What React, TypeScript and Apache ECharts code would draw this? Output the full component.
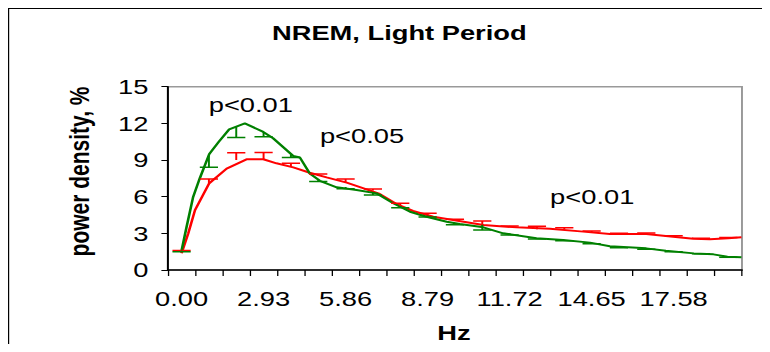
import React, { useEffect, useRef } from "react";
import * as echarts from "echarts";

// Category bins (Hz), labels on every 3rd bin
const categories = [
  "0.00", "0.98", "1.95", "2.93", "3.91", "4.88", "5.86", "6.84", "7.81", "8.79",
  "9.77", "10.74", "11.72", "12.70", "13.67", "14.65", "15.63", "16.60", "17.58", "18.55", "19.53",
];

// Mean and SE at each bin (red: bar upward, green: bar downward)
const redMean = [1.4, 7.1, 9.0, 9.06, 8.45, 7.7, 7.17, 6.5, 5.25, 4.4, 4.05, 3.6, 3.5, 3.33, 3.35, 3.1, 2.92, 2.93, 2.73, 2.52, 2.58];
const redSE = [0.2, 0.35, 0.6, 0.55, 0.28, 0.16, 0.28, 0.13, 0.21, 0.24, 0.11, 0.4, 0.1, 0.24, 0.11, 0.09, 0.08, 0.1, 0.08, 0.07, 0.07];
const greenMean = [1.6, 9.4, 11.7, 11.3, 9.45, 7.4, 6.8, 6.3, 5.2, 4.45, 3.85, 3.7, 3.0, 2.62, 2.47, 2.22, 1.9, 1.75, 1.55, 1.36, 1.1];
const greenSE = [0.1, 1.0, 0.85, 0.4, 0.25, 0.15, 0.15, 0.16, 0.1, 0.12, 0.15, 0.43, 0.14, 0.08, 0.07, 0.07, 0.07, 0.06, 0.05, 0.04, 0.06];

// Fine-resolution curves: frequency (Hz) and value (%)
const redFreq = [0, 0.24, 0.48, 0.99, 1.61, 2.32, 2.92, 3.39, 3.99, 4.58, 5.18, 5.9, 6.61, 7.08, 7.68, 8.27, 8.99, 9.7, 10.78, 11.97, 13.16, 14.35, 15.3, 16.6, 17.56, 18.28, 18.87, 19.53, 20.0];
const redVal = [1.37, 3.0, 4.9, 7.1, 8.3, 9.06, 9.06, 8.73, 8.4, 7.96, 7.58, 7.15, 6.6, 6.22, 5.4, 4.83, 4.36, 4.09, 3.68, 3.49, 3.38, 3.14, 2.95, 2.95, 2.73, 2.56, 2.51, 2.59, 2.68];
const greenFreq = [0, 0.18, 0.41, 0.65, 0.99, 1.33, 1.7, 2.26, 2.92, 3.27, 3.99, 4.23, 4.58, 4.94, 5.54, 6.25, 6.97, 7.56, 8.16, 8.75, 9.47, 9.94, 10.78, 11.49, 12.68, 13.63, 14.59, 15.3, 16.6, 17.3, 18.3, 19.0, 19.5, 20.0];
const greenVal = [1.58, 3.54, 5.95, 7.5, 9.49, 10.5, 11.51, 12.0, 11.3, 10.78, 9.33, 9.2, 7.9, 7.3, 6.77, 6.55, 6.27, 5.46, 4.77, 4.36, 3.95, 3.76, 3.49, 3.0, 2.59, 2.45, 2.24, 1.95, 1.77, 1.58, 1.36, 1.28, 1.09, 1.04];

const yTicks = { min: 0, max: 15, interval: 3 };

const FONT = "'Liberation Sans', Arial, Helvetica, sans-serif";
const RED = "#ff0000";
const GREEN = "#008000";

function errorBarSeries(name: string, mean: number[], se: number[], dir: number, color: string) {
  return {
    name,
    type: "custom",
    xAxisIndex: 0,
    yAxisIndex: 0,
    data: mean.map((m, i) => [i, m, m + dir * se[i]]),
    encode: { x: 0, y: [1, 2] },
    renderItem: (params: any, api: any) => {
      const i = api.value(0);
      const p0 = api.coord([i, api.value(1)]);
      const p1 = api.coord([i, api.value(2)]);
      const hw = 7;
      return {
        type: "group",
        children: [
          { type: "line", shape: { x1: p0[0], y1: p0[1], x2: p1[0], y2: p1[1] }, style: { stroke: color, lineWidth: 1.5 } },
          { type: "line", shape: { x1: p1[0] - hw, y1: p1[1], x2: p1[0] + hw, y2: p1[1] }, style: { stroke: color, lineWidth: 1.5 } },
        ],
      };
    },
    z: 3,
  };
}

function label(text: string, x: number, y: number, bold: boolean, rotation = 0) {
  return {
    type: "text",
    x,
    y,
    rotation,
    z: 10,
    style: {
      text,
      fill: "#000",
      fontFamily: FONT,
      fontSize: 21,
      fontWeight: bold ? "bold" : "normal",
      align: "center",
      verticalAlign: "middle",
    },
  };
}

export default function App() {
  const ref = useRef<HTMLDivElement>(null);

  useEffect(() => {
    document.body.style.overflow = "hidden";
    const chart = echarts.init(ref.current!, undefined, { renderer: "svg" });
    chart.setOption({
      animation: false,
      backgroundColor: "#fff",
      grid: {
        left: 122,
        right: 36.4,
        top: 77.7,
        bottom: 99,
        show: true,
        borderColor: "#999",
        borderWidth: 1.5,
        backgroundColor: "#fff",
      },
      xAxis: [
        {
          type: "category",
          data: categories,
          boundaryGap: true,
          axisLine: { onZero: false, lineStyle: { color: "#000", width: 1.5 } },
          axisTick: { show: true, interval: 0, alignWithLabel: false, length: 6, lineStyle: { color: "#000" } },
          axisLabel: { interval: 2, margin: 18, color: "#000", fontSize: 21, fontFamily: FONT },
          splitLine: { show: false },
          z: 5,
        },
        {
          type: "value",
          min: -0.48828,
          max: 20.01953,
          show: false,
        },
      ],
      yAxis: {
        type: "value",
        min: yTicks.min,
        max: yTicks.max,
        interval: yTicks.interval,
        axisLine: { show: true, onZero: false, lineStyle: { color: "#000", width: 1.5 } },
        axisTick: { show: true, length: 5, lineStyle: { color: "#000" } },
        axisLabel: { margin: 15, color: "#000", fontSize: 21, fontFamily: FONT },
        splitLine: { show: false },
        z: 5,
      },
      series: [
        {
          name: "red curve",
          type: "line",
          xAxisIndex: 1,
          data: redFreq.map((f, i) => [f, redVal[i]]),
          showSymbol: false,
          lineStyle: { color: RED, width: 2 },
          itemStyle: { color: RED },
          z: 2,
        },
        {
          name: "green curve",
          type: "line",
          xAxisIndex: 1,
          data: greenFreq.map((f, i) => [f, greenVal[i]]),
          showSymbol: false,
          lineStyle: { color: GREEN, width: 2 },
          itemStyle: { color: GREEN },
          z: 2,
        },
        errorBarSeries("red SE", redMean, redSE, 1, RED),
        errorBarSeries("green SE", greenMean, greenSE, -1, GREEN),
      ],
      graphic: [
        label("NREM, Light Period", 300, 23.3, true),
        label("power density, %", 53.6, 162.5, true, Math.PI / 2),
        label("Hz", 342, 323.5, true),
        label("p<0.01", 185.8, 96, false),
        label("p<0.05", 271.3, 126.5, false),
        label("p<0.01", 448.4, 187.7, false),
      ],
    });
    return () => chart.dispose();
  }, []);

  return (
    <div style={{ width: 754, height: 336, overflow: "hidden" }}>
      <div
        style={{
          width: 600,
          height: 360,
          border: "1px solid #000",
          transform: "scaleX(1.3)",
          transformOrigin: "0 0",
          background: "#fff",
        }}
      >
        <div ref={ref} style={{ width: 600, height: 360 }} />
      </div>
    </div>
  );
}
